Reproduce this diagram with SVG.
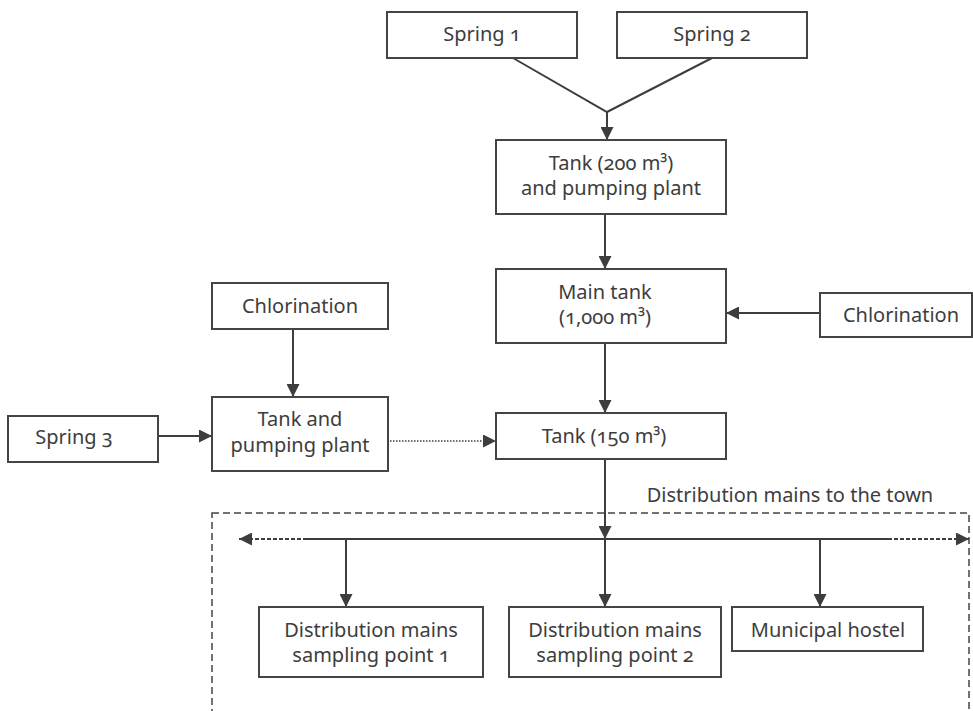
<svg xmlns="http://www.w3.org/2000/svg" width="973" height="711" viewBox="0 0 973 711">
<defs>
<marker id="arr" markerUnits="userSpaceOnUse" markerWidth="13" markerHeight="13" refX="13" refY="6.5" orient="auto">
<path d="M0,0 L13,6.5 L0,13 z" fill="#3d3d3d"/>
</marker>
</defs>
<style>
rect.box{fill:#fff;stroke:#444;stroke-width:2}
text{font-family:"Noto Sans","Open Sans","Liberation Sans",sans-serif;font-size:20px;fill:#3d3d3d;text-anchor:middle;font-variant-numeric:oldstyle-nums}
.c{fill:none;stroke:#3d3d3d;stroke-width:2}
.a{marker-end:url(#arr)}
.dot{stroke-dasharray:1.5 1.5;stroke-width:1.5}
.dsh{stroke-dasharray:4 2}
.frame{fill:none;stroke:#444;stroke-width:1.5;stroke-dasharray:7 4}
</style>
<rect class="frame" x="212" y="513" width="757" height="230"/>
<text x="790" y="502">Distribution mains to the town</text>
<g id="connectors">
<polyline class="c" points="513,58 607,112 712,58"/>
<line class="c a" x1="607" y1="112" x2="607" y2="140"/>
<line class="c a" x1="605" y1="214" x2="605" y2="269"/>
<line class="c a" x1="820" y1="313" x2="726" y2="313"/>
<line class="c a" x1="605" y1="343" x2="605" y2="413"/>
<line class="c a" x1="293" y1="329" x2="293" y2="397"/>
<line class="c a" x1="158" y1="436" x2="212" y2="436"/>
<line class="c a dot" x1="390" y1="441" x2="496" y2="441"/>
<line class="c a" x1="605" y1="459" x2="605" y2="539"/>
<line class="c" x1="307" y1="539" x2="888" y2="539"/>
<line class="c a dsh" x1="307" y1="539" x2="239" y2="539"/>
<line class="c a dsh" x1="888" y1="539" x2="969" y2="539"/>
<line class="c a" x1="605" y1="539" x2="605" y2="607"/>
<line class="c a" x1="346" y1="539" x2="346" y2="607"/>
<line class="c a" x1="820" y1="539" x2="820" y2="607"/>
</g>
<g id="spring1"><rect class="box" x="387" y="12" width="190" height="46"/><text x="482" y="41">Spring 1</text></g>
<g id="spring2"><rect class="box" x="617" y="12" width="190" height="46"/><text x="712" y="41">Spring 2</text></g>
<g id="tank200"><rect class="box" x="496" y="140" width="230" height="74"/><text x="611" y="170">Tank (200 m³)</text><text x="611" y="195">and pumping plant</text></g>
<g id="maintank"><rect class="box" x="496" y="269" width="230" height="74"/><text x="605" y="299">Main tank</text><text x="605" y="324">(1,000 m³)</text></g>
<g id="chlorination2"><rect class="box" x="820" y="293" width="152" height="44"/><text x="901" y="322">Chlorination</text></g>
<g id="chlorination1"><rect class="box" x="212" y="283" width="176" height="46"/><text x="300" y="313">Chlorination</text></g>
<g id="tankpump"><rect class="box" x="212" y="397" width="176" height="74"/><text x="300" y="426">Tank and</text><text x="300" y="452">pumping plant</text></g>
<g id="spring3"><rect class="box" x="8" y="416" width="150" height="46"/><text x="74" y="444">Spring 3</text></g>
<g id="tank150"><rect class="box" x="496" y="413" width="230" height="46"/><text x="604" y="443">Tank (150 m³)</text></g>
<g id="dm1"><rect class="box" x="259" y="607" width="224" height="70"/><text x="371" y="637">Distribution mains</text><text x="371" y="662">sampling point 1</text></g>
<g id="dm2"><rect class="box" x="509" y="607" width="212" height="70"/><text x="615" y="637">Distribution mains</text><text x="615" y="662">sampling point 2</text></g>
<g id="hostel"><rect class="box" x="732" y="607" width="191" height="44"/><text x="828" y="637">Municipal hostel</text></g>
</svg>
